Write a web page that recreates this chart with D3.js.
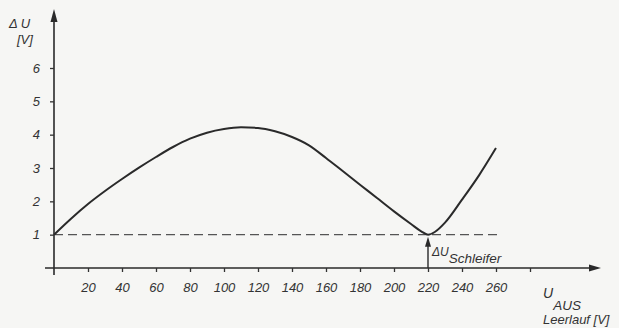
<!DOCTYPE html>
<html lang="de">
<head>
<meta charset="utf-8">
<script src="https://d3js.org/d3.v7.min.js"></script>
<style>
  body { margin: 0; padding: 0; background: #f6f6f4; }
  svg { display: block; }
  text { font-family: "Liberation Sans", Arial, sans-serif; font-style: italic; fill: #333; }
  .tick text { font-size: 13px; }
  .tick line { stroke: #333; stroke-width: 1.3; }
</style>
</head>
<body>
<svg id="chart" width="619" height="328"></svg>
<script>
// U_AUS Leerlauf [V] and Delta U [V]
const uAus = [0, 10, 20, 30, 40, 50, 60, 70, 80, 90, 100, 110, 120, 130, 140, 150, 160, 170, 180, 190, 200, 210, 216, 220, 224, 230, 240, 250, 260];
const deltaU = [1.0, 1.48, 1.92, 2.31, 2.67, 3.01, 3.33, 3.63, 3.88, 4.06, 4.17, 4.22, 4.2, 4.1, 3.93, 3.68, 3.3, 2.9, 2.5, 2.1, 1.7, 1.32, 1.1, 1.0, 1.08, 1.36, 2.05, 2.78, 3.6];
const xTicks = [20, 40, 60, 80, 100, 120, 140, 160, 180, 200, 220, 240, 260, 280];
const yTicks = [1, 2, 3, 4, 5, 6];
const refLevel = 1;      // dashed line
const schleiferAt = 220; // arrow for Delta U Schleifer

const svg = d3.select('#chart');
const ink = '#2a2a2a';

const x = d3.scaleLinear().domain([0, 280]).range([54, 530]);
const y = d3.scaleLinear().domain([0, 6]).range([268, 68]);

// axes lines with arrows
svg.append('line').attr('x1', 45).attr('x2', 592).attr('y1', y(0)).attr('y2', y(0))
   .attr('stroke', ink).attr('stroke-width', 1.6);
svg.append('path').attr('d', `M601,${y(0)} L589,${y(0) - 3.5} L589,${y(0) + 3.5} Z`).attr('fill', ink);
svg.append('line').attr('x1', x(0)).attr('x2', x(0)).attr('y1', 275).attr('y2', 20)
   .attr('stroke', ink).attr('stroke-width', 1.6);
svg.append('path').attr('d', `M${x(0)},9 L${x(0) - 3.5},22 L${x(0) + 3.5},22 Z`).attr('fill', ink);

const xAxis = d3.axisBottom(x).tickValues(xTicks).tickSize(4).tickPadding(11)
                .tickFormat(d => d === 280 ? '' : d);
svg.append('g').attr('transform', `translate(0,${y(0)})`).call(xAxis)
   .call(g => g.select('.domain').remove());

const yAxis = d3.axisLeft(y).tickValues(yTicks).tickSize(4).tickPadding(10).tickFormat(d3.format('d'));
svg.append('g').attr('transform', `translate(${x(0)},0)`).call(yAxis)
   .call(g => g.select('.domain').remove());

// dashed reference line
svg.append('line').attr('x1', x(0)).attr('x2', x(262)).attr('y1', y(refLevel)).attr('y2', y(refLevel))
   .attr('stroke', '#555').attr('stroke-width', 1.3).attr('stroke-dasharray', '9,5');

// curve
const line = d3.line().x((d, i) => x(uAus[i])).y(d => y(d)).curve(d3.curveMonotoneX);
svg.append('path').datum(deltaU).attr('d', line)
   .attr('fill', 'none').attr('stroke', ink).attr('stroke-width', 2);

// Delta U Schleifer arrow
const minIdx = uAus.indexOf(schleiferAt);
const ax = x(schleiferAt), ay = y(deltaU[minIdx]) + 2;
svg.append('line').attr('x1', ax).attr('x2', ax).attr('y1', y(0)).attr('y2', ay + 8)
   .attr('stroke', ink).attr('stroke-width', 1.4);
svg.append('path').attr('d', `M${ax},${ay} L${ax - 3},${ay + 10} L${ax + 3},${ay + 10} Z`).attr('fill', ink);
const sch = svg.append('text').attr('x', ax + 4).attr('y', 256).attr('font-size', 12);
sch.append('tspan').text('ΔU');
sch.append('tspan').attr('dy', 7).attr('font-size', 13.5).text('Schleifer');

// axis titles
svg.append('text').attr('x', 9).attr('y', 28).attr('font-size', 13).text('Δ U');
svg.append('text').attr('x', 17).attr('y', 44).attr('font-size', 13).text('[V]');

const ut = svg.append('text').attr('x', 543).attr('y', 298).attr('font-size', 14);
ut.append('tspan').text('U');
ut.append('tspan').attr('dy', 12).attr('font-size', 13.5).text('AUS');
svg.append('text').attr('x', 543).attr('y', 324).attr('font-size', 13).text('Leerlauf [V]');
</script>
</body>
</html>
